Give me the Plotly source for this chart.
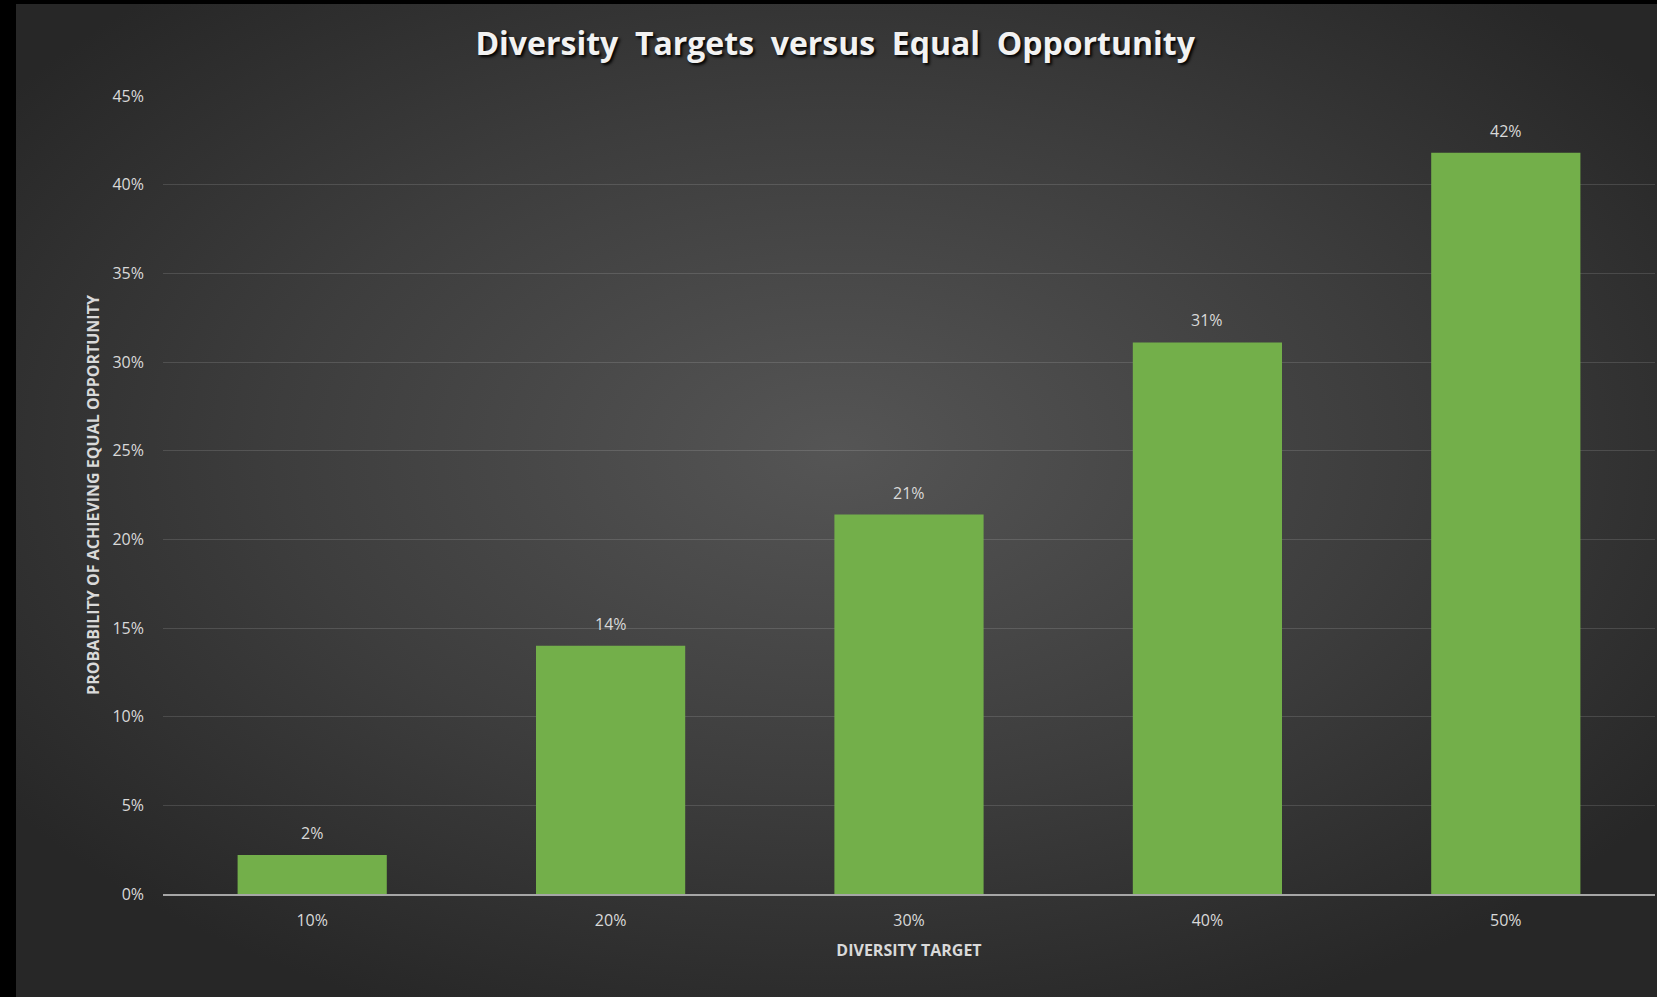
import base64
import plotly.graph_objects as go

categories = ["10%", "20%", "30%", "40%", "50%"]
probabilities = [0.022, 0.140, 0.214, 0.311, 0.418]
y_ticks = [0, 0.05, 0.10, 0.15, 0.20, 0.25, 0.30, 0.35, 0.40, 0.45]

W, H = 1657, 997
L, R, T, B = 163, 2, 96, 103

svg = f'''<svg xmlns="http://www.w3.org/2000/svg" width="{W-16}" height="{H-4}" viewBox="0 0 {W-16} {H-4}" preserveAspectRatio="none">
<defs><radialGradient id="g" cx="0.5" cy="0.45" r="0.62" gradientUnits="objectBoundingBox">
<stop offset="0" stop-color="#555555"/>
<stop offset="0.55" stop-color="#3d3d3d"/>
<stop offset="1" stop-color="#272727"/>
</radialGradient></defs>
<rect x="0" y="0" width="{W-16}" height="{H-4}" fill="url(#g)"/>
</svg>'''
src = "data:image/svg+xml;base64," + base64.b64encode(svg.encode()).decode()

pw, ph = W - L - R, H - T - B

fig = go.Figure()
fig.add_trace(go.Bar(
    x=categories, y=probabilities,
    marker=dict(color="#73af4a", line=dict(width=0)),
    hoverinfo="skip",
))
for c, v in zip(categories, probabilities):
    fig.add_annotation(x=c, y=v, text=f"{v*100:.0f}%", showarrow=False,
                       yshift=22, font=dict(family="Open Sans", size=16, color="#d9d9d9"))

fig.add_layout_image(dict(
    source=src, xref="paper", yref="paper",
    x=(16 - L) / pw, y=(H - B - 4) / ph,
    sizex=(W - 16) / pw, sizey=(H - 4) / ph,
    xanchor="left", yanchor="top", sizing="stretch", layer="below",
))

sp = "&nbsp; "
fig.update_layout(
    width=W, height=H,
    margin=dict(l=L, r=R, t=T, b=B),
    paper_bgcolor="#000000",
    plot_bgcolor="rgba(0,0,0,0)",
    showlegend=False,
    bargap=0.5,
    title=dict(
        text=sp.join(["Diversity", "Targets", "versus", "Equal", "Opportunity"]),
        x=0.504, xanchor="center", y=1 - 44 / H, yanchor="middle",
        font=dict(family="Open Sans", size=32, color="#f2f2f2", weight="bold",
                  shadow="2px 2px 3px #000000"),
    ),
    xaxis=dict(
        showgrid=False, showline=True, linecolor="#a6a6a6", linewidth=2,
        ticks="", ticklabelstandoff=11,
        tickfont=dict(family="Open Sans", size=16, color="#d9d9d9"),
        title=dict(text="DIVERSITY TARGET", standoff=15,
                   font=dict(family="Open Sans", size=16, color="#d9d9d9", weight="bold")),
    ),
    yaxis=dict(
        range=[0, 0.45], tickvals=y_ticks, tickformat=".0%",
        showgrid=True, gridcolor="rgba(255,255,255,0.13)", gridwidth=1,
        zeroline=False, showline=False, ticks="", ticklabelstandoff=18,
        tickfont=dict(family="Open Sans", size=16, color="#d9d9d9"),
        title=dict(text="PROBABILITY OF ACHIEVING EQUAL OPPORTUNITY", standoff=8,
                   font=dict(family="Open Sans", size=16, color="#d9d9d9", weight="bold")),
    ),
)

fig.write_html("out.html", config={"displayModeBar": False},
               post_script="document.body.style.margin='0';document.body.style.padding='0';")
